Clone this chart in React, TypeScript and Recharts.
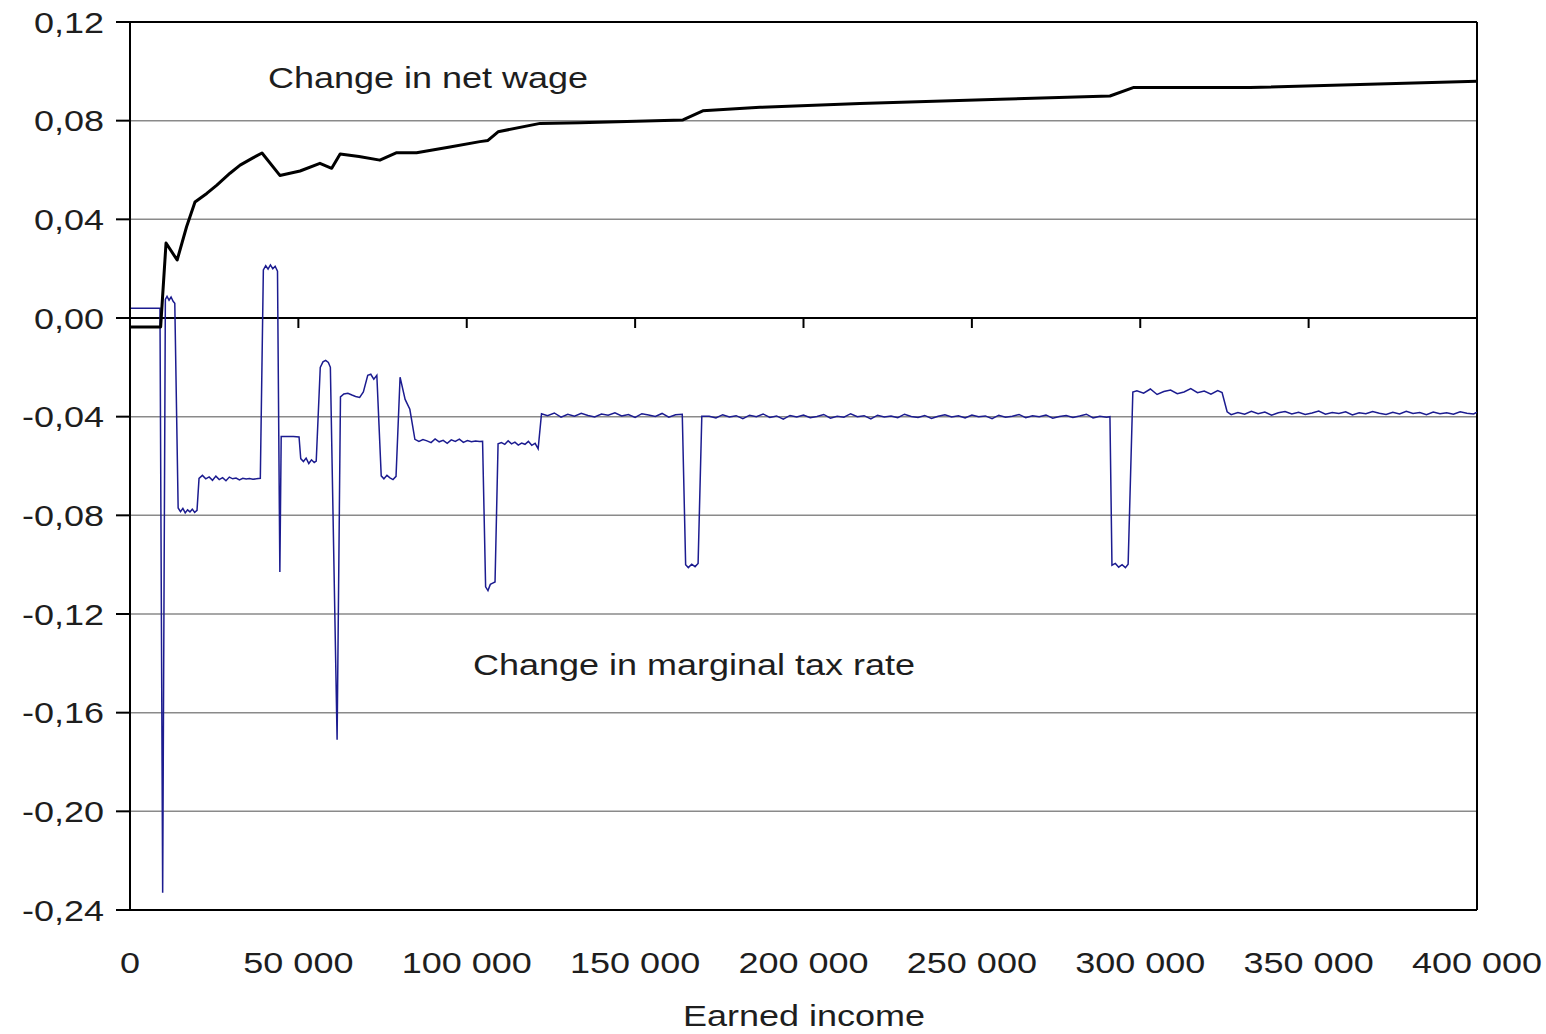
import React from "react"
import { LineChart, Line, XAxis, YAxis, CartesianGrid, ReferenceLine } from "recharts"

// chart geometry
const W = 1546
const H = 1034
const TOP = 22
const LEFT = 130
const RIGHT = 69
const BOTTOM = 124
const PLOT_H = H - TOP - BOTTOM
const Y_MAX = 0.12
const Y_MIN = -0.24
const ZERO_Y = TOP + (PLOT_H * Y_MAX) / (Y_MAX - Y_MIN)
const FONT = '"Liberation Sans", Arial, sans-serif'
const TEXT = "#1e1e1e"
const STRETCH = 1.2

const xTicks = [0, 50000, 100000, 150000, 200000, 250000, 300000, 350000, 400000]
const yTicks = [0.12, 0.08, 0.04, 0, -0.04, -0.08, -0.12, -0.16, -0.2, -0.24]

// change in net wage
const netIncome = [
  0, 9100, 10700, 14000, 16800, 19300, 22800, 25800, 29700, 32700, 36500, 39200,
  44500, 50500, 56400, 59900, 62400, 68000, 74200, 79200, 85100, 95000, 103900,
  106300, 109300, 121800, 133600, 164200, 170100, 187100, 216800, 258400, 291000,
  297900, 332600, 400000,
]
const netWage = [
  -0.0036, -0.0036, 0.0304, 0.0235, 0.037, 0.047, 0.0505, 0.0539, 0.0587, 0.062, 0.0649, 0.0669,
  0.0578, 0.0596, 0.0627, 0.0607, 0.0665, 0.0655, 0.064, 0.067, 0.067, 0.0693, 0.0715,
  0.072, 0.0755, 0.0789, 0.0792, 0.0803, 0.084, 0.0854, 0.087, 0.0887, 0.09,
  0.0934, 0.0934, 0.096,
]

// change in marginal tax rate
const taxIncome = [
  0, 4000, 8900, 9700, 10500, 11000, 11600, 12200, 12800, 13300, 14300,
  15000, 15700, 16400, 17100, 17800, 18500, 19200, 19900,
  20500, 21500, 22500, 23500, 24500, 25500, 26500, 27500, 28500, 29500,
  30500, 31500, 32500, 33500, 34500, 35500, 36500, 37500, 38700,
  39600, 40300, 41000, 41700, 42400, 43100, 43800, 44500, 44900,
  46500, 48500, 50200, 50700, 51500, 52300, 53100, 53900, 54700, 55300,
  56500, 57300, 58100, 58900, 59500, 61500, 62500, 63500, 64700, 65900,
  67000, 68200, 69300, 70600, 71500, 72400, 73300, 74600, 75400, 76300,
  77200, 78100, 79000, 80200, 81700, 83100, 84600,
  85800, 87000, 88200, 89400, 90600, 91800, 93000, 94200, 95400, 96600,
  97800, 99000, 100200, 101400, 102600, 103800, 104700,
  105600, 106300, 107000, 107700, 108400, 109300,
  110300, 111300, 112300, 113300, 114300, 115300, 116300, 117300, 118300, 119300, 120300, 121200,
  122200, 124000, 126000, 128000, 130000, 132000, 134000, 136000, 138000, 140000, 142000,
  144000, 146000, 148000, 150000, 152000, 154000, 156000, 158000, 160000, 162000, 164000,
  165000, 165800, 166800, 167800, 168700, 169800,
  172000, 174000, 176000, 178000, 180000, 182000, 184000, 186000, 188000, 190000,
  192000, 194000, 196000, 198000, 200000, 202000, 204000, 206000, 208000, 210000,
  212000, 214000, 216000, 218000, 220000, 222000, 224000, 226000, 228000, 230000,
  232000, 234000, 236000, 238000, 240000, 242000, 244000, 246000, 248000, 250000,
  252000, 254000, 256000, 258000, 260000, 262000, 264000, 266000, 268000, 270000,
  272000, 274000, 276000, 278000, 280000, 282000, 284000, 286000, 288000, 290000,
  291000,
  291600, 292600, 293600, 294600, 295600, 296400, 297800,
  299000, 301000, 303000, 305000, 307000, 309000, 311000, 313000, 315000, 317000,
  319000, 321000, 323000, 324300,
  325800, 327000, 329000, 331000, 333000, 335000, 337000, 339000, 341000, 343000,
  345000, 347000, 349000, 351000, 353000, 355000, 357000, 359000, 361000, 363000,
  365000, 367000, 369000, 371000, 373000, 375000, 377000, 379000, 381000, 383000,
  385000, 387000, 389000, 391000, 393000, 395000, 397000, 399000, 400000,
]
const taxRate = [
  0.004, 0.004, 0.004, -0.233, 0.0075, 0.0088, 0.0072, 0.0085, 0.0068, 0.006, -0.077,
  -0.0785, -0.0772, -0.079, -0.0778, -0.0786, -0.0775, -0.0788, -0.078,
  -0.065, -0.0638, -0.0652, -0.0644, -0.0658, -0.0641, -0.0655, -0.0647, -0.066, -0.0645,
  -0.0652, -0.0649, -0.0656, -0.065, -0.0653, -0.0651, -0.0654, -0.0652, -0.065,
  0.0195, 0.0212, 0.0198, 0.0215, 0.02, 0.021, 0.019, -0.103, -0.048,
  -0.048, -0.048, -0.0482, -0.057, -0.0582, -0.0568, -0.059, -0.0575, -0.0586, -0.058,
  -0.02, -0.0178, -0.0172, -0.018, -0.02, -0.171, -0.032, -0.0308, -0.0305, -0.0312,
  -0.0318, -0.0322, -0.03, -0.0232, -0.0228, -0.0248, -0.0232, -0.064, -0.0652, -0.0638,
  -0.0648, -0.0655, -0.0642, -0.024, -0.033, -0.037, -0.0492,
  -0.05, -0.0493, -0.0498, -0.0505, -0.049, -0.0502, -0.0496, -0.0508, -0.0494, -0.05,
  -0.0491, -0.0504, -0.0497, -0.0502, -0.0499, -0.0501, -0.05,
  -0.109, -0.1105, -0.108, -0.1075, -0.107, -0.051,
  -0.0505, -0.0512, -0.0498, -0.051, -0.0503, -0.0515, -0.0507, -0.0512, -0.05, -0.0516, -0.0508, -0.053,
  -0.0388, -0.0396, -0.0385, -0.0402, -0.039, -0.0398, -0.0386, -0.0395, -0.0401, -0.0389, -0.0394,
  -0.0384, -0.0397, -0.0391, -0.0403, -0.0388, -0.0393, -0.0399, -0.0387, -0.0402, -0.0392, -0.039,
  -0.1, -0.1012, -0.0998, -0.1008, -0.0995, -0.0398,
  -0.0398, -0.0405, -0.0392, -0.0401, -0.0396, -0.0408, -0.0394, -0.04, -0.0389, -0.0403,
  -0.0397, -0.041, -0.0395, -0.0401, -0.0393, -0.0404, -0.0399, -0.0391, -0.0406, -0.0398,
  -0.0402, -0.0388, -0.04, -0.0396, -0.0409, -0.0394, -0.0401, -0.0397, -0.0404, -0.039,
  -0.0399, -0.0403, -0.0395, -0.0407, -0.0398, -0.0392, -0.0401, -0.0396, -0.0405, -0.0393,
  -0.04, -0.0397, -0.0408, -0.0394, -0.0402, -0.0398, -0.0391, -0.0404, -0.0396, -0.04,
  -0.0393, -0.0406, -0.0399, -0.0395, -0.0403, -0.0397, -0.039, -0.0405, -0.0398, -0.0402,
  -0.04,
  -0.1002, -0.0995, -0.101, -0.1, -0.1012, -0.0998, -0.03,
  -0.0295, -0.0305, -0.0288, -0.031, -0.0298, -0.0292, -0.0307, -0.03, -0.0286, -0.0303,
  -0.0296, -0.0309, -0.0294, -0.0302,
  -0.038, -0.0392, -0.0383, -0.039, -0.0378, -0.0388, -0.0381, -0.0394, -0.0384, -0.0379,
  -0.0389, -0.0382, -0.0391, -0.0385, -0.0377, -0.039, -0.0383, -0.0387, -0.038, -0.0393,
  -0.0384, -0.0388, -0.0379, -0.0386, -0.0391, -0.0382, -0.0389, -0.0378, -0.0387, -0.0383,
  -0.0392, -0.0381, -0.0388, -0.0384, -0.039, -0.038, -0.0386, -0.0389, -0.0382,
]

const netData = netIncome.map((income, i) => ({ income, value: netWage[i] }))
const taxData = taxIncome.map((income, i) => ({ income, value: taxRate[i] }))

const fmtY = (v: number) => v.toFixed(2).replace(".", ",")
const fmtX = (v: number) => String(v).replace(/\B(?=(\d{3})+(?!\d))/g, " ")

function YTick(props: any) {
  const { x, y, payload } = props
  return (
    <g transform={`translate(${x},${y}) scale(${STRETCH},1)`}>
      <text x={0} y={0} dy="0.35em" textAnchor="end" fontSize={30} fontFamily={FONT} fill={TEXT}>
        {fmtY(payload.value)}
      </text>
    </g>
  )
}

// labels sit under the plot, tick marks hang from the zero line
function XTick(props: any) {
  const { x, payload } = props
  return (
    <g>
      <line x1={x} x2={x} y1={ZERO_Y} y2={ZERO_Y + 10} stroke="#000" strokeWidth={2} />
      <g transform={`translate(${x},${TOP + PLOT_H + 63}) scale(${STRETCH},1)`}>
        <text x={0} y={0} textAnchor="middle" fontSize={30} fontFamily={FONT} fill={TEXT}>
          {fmtX(payload.value)}
        </text>
      </g>
    </g>
  )
}

function Caption({ x, y, children }: { x: number; y: number; children: React.ReactNode }) {
  return (
    <g transform={`translate(${x},${y}) scale(${STRETCH},1)`}>
      <text x={0} y={0} fontSize={30} fontFamily={FONT} fill={TEXT}>
        {children}
      </text>
    </g>
  )
}

export default function App() {
  return (
    <div style={{ position: "absolute", left: 0, top: 0, width: W, height: H, background: "#fff" }}>
      <LineChart width={W} height={H} margin={{ top: TOP, right: RIGHT, left: 0, bottom: 0 }}>
        <CartesianGrid vertical={false} stroke="#8a8a8a" strokeWidth={1.5} />
        <XAxis
          dataKey="income"
          type="number"
          domain={[0, 400000]}
          ticks={xTicks}
          height={BOTTOM}
          tick={<XTick />}
          tickLine={false}
          axisLine={{ stroke: "#000", strokeWidth: 2 }}
          allowDataOverflow
        />
        <YAxis
          type="number"
          domain={[Y_MIN, Y_MAX]}
          ticks={yTicks}
          width={LEFT}
          tick={<YTick />}
          tickSize={14}
          tickMargin={12}
          tickLine={{ stroke: "#000", strokeWidth: 2 }}
          axisLine={{ stroke: "#000", strokeWidth: 2 }}
          allowDataOverflow
        />
        <ReferenceLine y={Y_MAX} stroke="#000" strokeWidth={2} />
        <ReferenceLine x={400000} stroke="#000" strokeWidth={2} />
        <ReferenceLine y={0} stroke="#000" strokeWidth={2} />
        <Line
          data={taxData}
          dataKey="value"
          type="linear"
          stroke="#1c1c90"
          strokeWidth={1.5}
          dot={false}
          activeDot={false}
          isAnimationActive={false}
        />
        <Line
          data={netData}
          dataKey="value"
          type="linear"
          stroke="#000"
          strokeWidth={3}
          strokeLinejoin="round"
          dot={false}
          activeDot={false}
          isAnimationActive={false}
        />
      </LineChart>
      <svg width={W} height={H} style={{ position: "absolute", left: 0, top: 0, pointerEvents: "none" }}>
        <Caption x={268} y={88}>Change in net wage</Caption>
        <Caption x={473} y={675}>Change in marginal tax rate</Caption>
        <Caption x={683} y={1026}>Earned income</Caption>
      </svg>
    </div>
  )
}
